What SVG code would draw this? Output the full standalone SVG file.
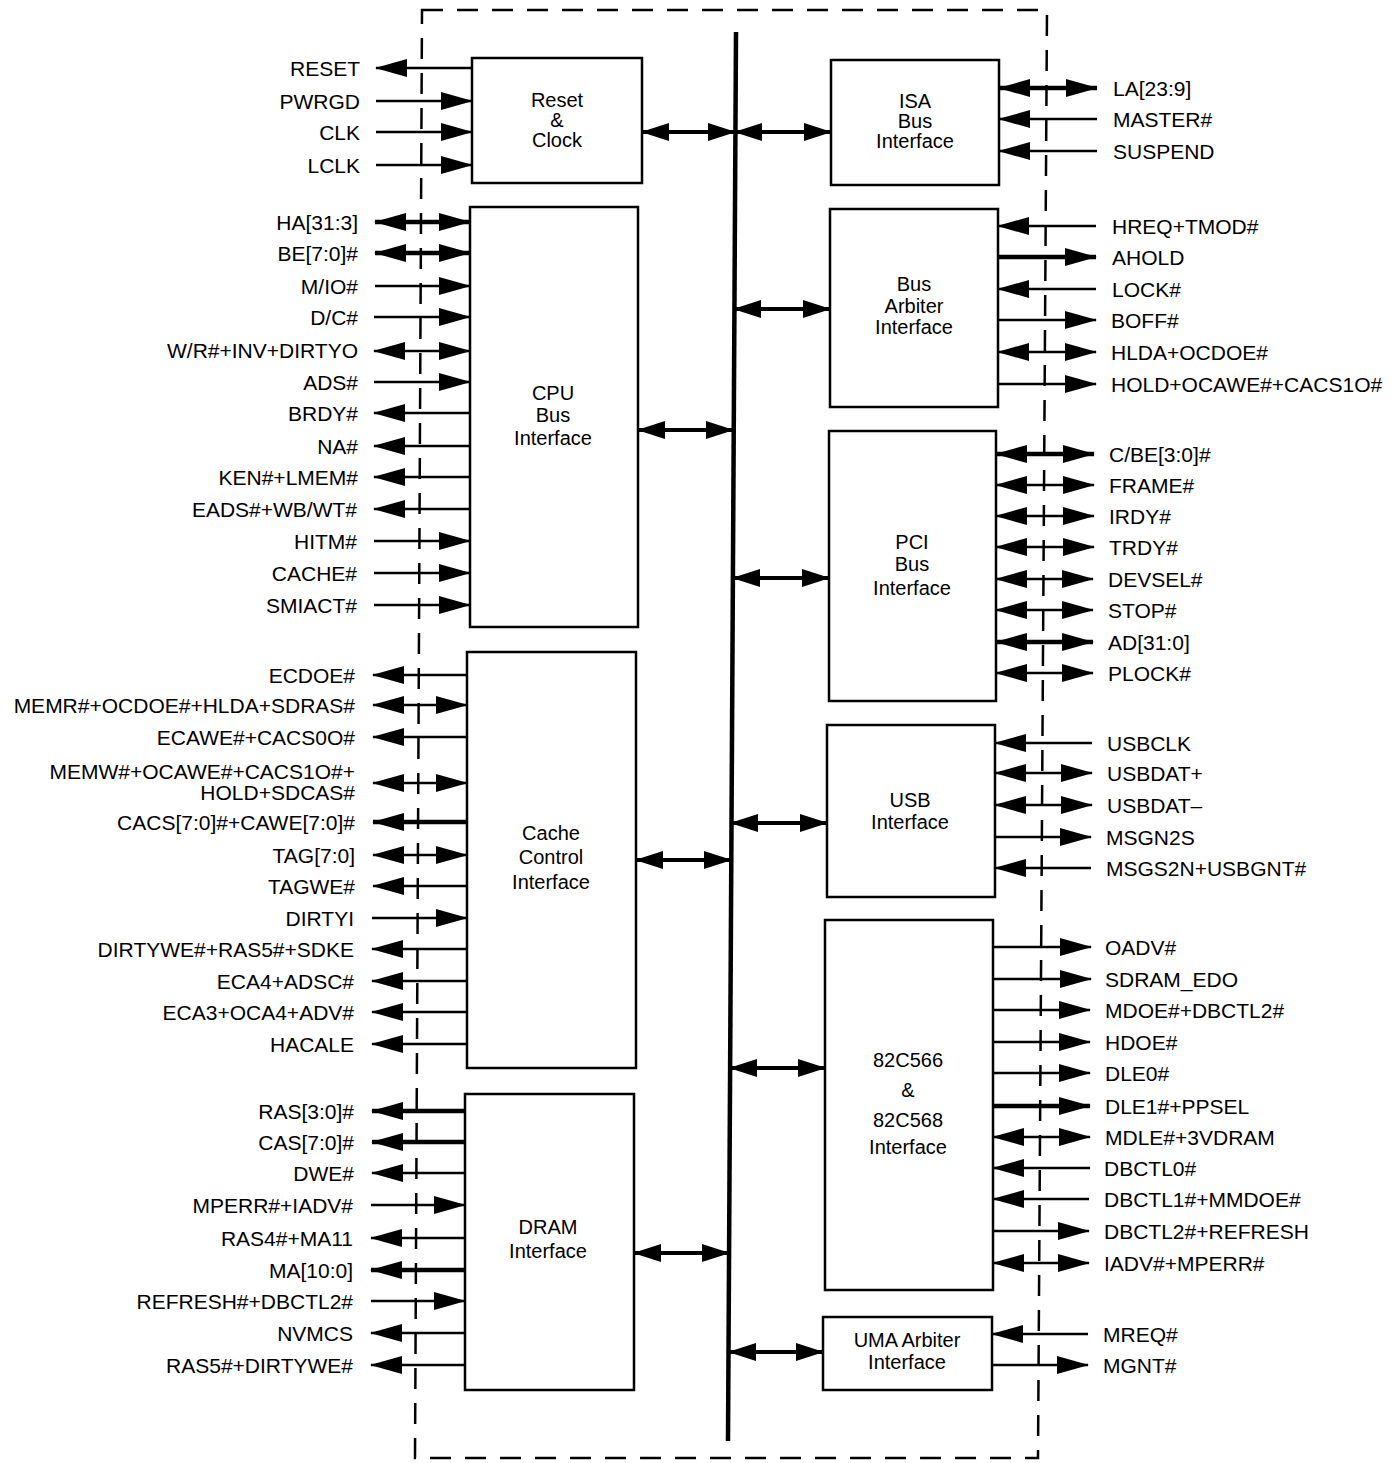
<svg xmlns="http://www.w3.org/2000/svg" width="1398" height="1463" viewBox="0 0 1398 1463">
  <style>
    text { font-family: "Liberation Sans", Arial, Helvetica, sans-serif; fill: #000; }
    .sig { font-size: 21px; }
    .sl { text-anchor: end; }
    .sr { text-anchor: start; }
    .blk { font-size: 20px; text-anchor: middle; }
    .box { fill: #fff; stroke: #000; stroke-width: 2.5; }
    .w { stroke: #000; stroke-width: 2.5; fill: none; }
    .bw { stroke: #000; stroke-width: 4.5; fill: none; }
    .out { marker-end: url(#ah); }
    .bi { marker-start: url(#ah); marker-end: url(#ah); }
    .link { stroke: #000; stroke-width: 4; fill: none; marker-start: url(#ahb); marker-end: url(#ahb); }
    .chip { fill: none; stroke: #000; stroke-width: 2.5; stroke-dasharray: 21 14; }
    .bus { stroke: #000; stroke-width: 4.5; }
  </style>
  <defs>
    <marker id="ah" markerUnits="userSpaceOnUse" viewBox="0 0 32 18" markerWidth="32" markerHeight="18" refX="31" refY="9" orient="auto-start-reverse">
      <path d="M0,0 L32,9 L0,18 Z" fill="#000"/>
    </marker>
    <marker id="ahb" markerUnits="userSpaceOnUse" viewBox="0 0 28 18" markerWidth="28" markerHeight="18" refX="27" refY="9" orient="auto-start-reverse">
      <path d="M0,0 L28,9 L0,18 Z" fill="#000"/>
    </marker>
  </defs>

  <rect width="1398" height="1463" fill="#fff"/>

  <!-- chip boundary and internal bus -->
  <path class="chip" d="M422,10 L1047,10 L1038,1458 L415,1458 Z"/>
  <line class="bus" x1="736" y1="32" x2="728" y2="1441"/>

  <!-- functional blocks -->
  <g id="reset-clock">
    <rect class="box" x="472" y="58" width="170" height="125"/>
    <text class="blk" x="557" y="107">Reset</text>
    <text class="blk" x="557" y="127">&amp;</text>
    <text class="blk" x="557" y="147">Clock</text>
  </g>
  <g id="cpu-bus">
    <rect class="box" x="470" y="207" width="168" height="420"/>
    <text class="blk" x="553" y="400">CPU</text>
    <text class="blk" x="553" y="422">Bus</text>
    <text class="blk" x="553" y="445">Interface</text>
  </g>
  <g id="cache-control">
    <rect class="box" x="467" y="652" width="169" height="416"/>
    <text class="blk" x="551" y="840">Cache</text>
    <text class="blk" x="551" y="864">Control</text>
    <text class="blk" x="551" y="889">Interface</text>
  </g>
  <g id="dram">
    <rect class="box" x="465" y="1094" width="169" height="296"/>
    <text class="blk" x="548" y="1234">DRAM</text>
    <text class="blk" x="548" y="1258">Interface</text>
  </g>
  <g id="isa-bus">
    <rect class="box" x="831" y="60" width="168" height="125"/>
    <text class="blk" x="915" y="108">ISA</text>
    <text class="blk" x="915" y="128">Bus</text>
    <text class="blk" x="915" y="148">Interface</text>
  </g>
  <g id="bus-arbiter">
    <rect class="box" x="830" y="209" width="168" height="198"/>
    <text class="blk" x="914" y="291">Bus</text>
    <text class="blk" x="914" y="313">Arbiter</text>
    <text class="blk" x="914" y="334">Interface</text>
  </g>
  <g id="pci-bus">
    <rect class="box" x="829" y="431" width="167" height="270"/>
    <text class="blk" x="912" y="549">PCI</text>
    <text class="blk" x="912" y="571">Bus</text>
    <text class="blk" x="912" y="595">Interface</text>
  </g>
  <g id="usb">
    <rect class="box" x="827" y="725" width="168" height="172"/>
    <text class="blk" x="910" y="807">USB</text>
    <text class="blk" x="910" y="829">Interface</text>
  </g>
  <g id="dbc-interface">
    <rect class="box" x="825" y="920" width="168" height="370"/>
    <text class="blk" x="908" y="1067">82C566</text>
    <text class="blk" x="908" y="1097">&amp;</text>
    <text class="blk" x="908" y="1127">82C568</text>
    <text class="blk" x="908" y="1154">Interface</text>
  </g>
  <g id="uma-arbiter">
    <rect class="box" x="823" y="1317" width="169" height="73"/>
    <text class="blk" x="907" y="1347">UMA Arbiter</text>
    <text class="blk" x="907" y="1369">Interface</text>
  </g>

  <!-- connectors -->
  <g id="connectors">
    <!-- block to internal bus -->
    <line class="link" x1="642" y1="132" x2="735" y2="132"/>
    <line class="link" x1="735" y1="132" x2="831" y2="132"/>
    <line class="link" x1="734" y1="309" x2="830" y2="309"/>
    <line class="link" x1="638" y1="430" x2="733" y2="430"/>
    <line class="link" x1="733" y1="578" x2="829" y2="578"/>
    <line class="link" x1="731" y1="823" x2="827" y2="823"/>
    <line class="link" x1="636" y1="860" x2="731" y2="860"/>
    <line class="link" x1="730" y1="1068" x2="825" y2="1068"/>
    <line class="link" x1="634" y1="1253" x2="729" y2="1253"/>
    <line class="link" x1="729" y1="1352" x2="823" y2="1352"/>

    <!-- reset & clock pins -->
    <line class="w out" x1="472" y1="68" x2="376" y2="68"/>
    <line class="w out" x1="376" y1="101" x2="472" y2="101"/>
    <line class="w out" x1="376" y1="132" x2="472" y2="132"/>
    <line class="w out" x1="376" y1="165" x2="472" y2="165"/>

    <!-- CPU bus pins -->
    <line class="bw bi" x1="375" y1="222" x2="470" y2="222"/>
    <line class="bw bi" x1="375" y1="253" x2="470" y2="253"/>
    <line class="w out" x1="375" y1="286" x2="470" y2="286"/>
    <line class="w out" x1="374" y1="317" x2="470" y2="317"/>
    <line class="w bi" x1="374" y1="351" x2="470" y2="351"/>
    <line class="w out" x1="374" y1="382" x2="470" y2="382"/>
    <line class="w out" x1="470" y1="413" x2="374" y2="413"/>
    <line class="w out" x1="470" y1="446" x2="374" y2="446"/>
    <line class="w out" x1="470" y1="477" x2="374" y2="477"/>
    <line class="w out" x1="470" y1="509" x2="374" y2="509"/>
    <line class="w out" x1="374" y1="541" x2="470" y2="541"/>
    <line class="w out" x1="374" y1="573" x2="470" y2="573"/>
    <line class="w out" x1="374" y1="605" x2="470" y2="605"/>

    <!-- cache control pins -->
    <line class="w out" x1="467" y1="675" x2="373" y2="675"/>
    <line class="w bi" x1="373" y1="705" x2="467" y2="705"/>
    <line class="w out" x1="467" y1="737" x2="373" y2="737"/>
    <line class="w bi" x1="373" y1="783" x2="467" y2="783"/>
    <line class="bw out" x1="467" y1="822" x2="373" y2="822"/>
    <line class="w bi" x1="373" y1="855" x2="467" y2="855"/>
    <line class="w out" x1="467" y1="886" x2="373" y2="886"/>
    <line class="w out" x1="372" y1="918" x2="467" y2="918"/>
    <line class="w out" x1="467" y1="949" x2="372" y2="949"/>
    <line class="w out" x1="467" y1="981" x2="372" y2="981"/>
    <line class="w out" x1="467" y1="1012" x2="372" y2="1012"/>
    <line class="w out" x1="467" y1="1044" x2="372" y2="1044"/>

    <!-- DRAM pins -->
    <line class="bw out" x1="465" y1="1111" x2="372" y2="1111"/>
    <line class="bw out" x1="465" y1="1142" x2="372" y2="1142"/>
    <line class="w out" x1="465" y1="1173" x2="372" y2="1173"/>
    <line class="w out" x1="371" y1="1205" x2="465" y2="1205"/>
    <line class="w out" x1="465" y1="1238" x2="371" y2="1238"/>
    <line class="bw out" x1="465" y1="1270" x2="371" y2="1270"/>
    <line class="w out" x1="371" y1="1301" x2="465" y2="1301"/>
    <line class="w out" x1="465" y1="1333" x2="371" y2="1333"/>
    <line class="w out" x1="465" y1="1365" x2="371" y2="1365"/>

    <!-- ISA pins -->
    <line class="bw bi" x1="999" y1="88" x2="1097" y2="88"/>
    <line class="w out" x1="1097" y1="119" x2="999" y2="119"/>
    <line class="w out" x1="1097" y1="151" x2="999" y2="151"/>

    <!-- bus arbiter pins -->
    <line class="w out" x1="1096" y1="226" x2="998" y2="226"/>
    <line class="bw out" x1="998" y1="257" x2="1096" y2="257"/>
    <line class="w out" x1="1096" y1="289" x2="998" y2="289"/>
    <line class="w out" x1="998" y1="320" x2="1096" y2="320"/>
    <line class="w bi" x1="998" y1="352" x2="1096" y2="352"/>
    <line class="w out" x1="998" y1="384" x2="1096" y2="384"/>

    <!-- PCI pins -->
    <line class="bw bi" x1="996" y1="454" x2="1094" y2="454"/>
    <line class="w bi" x1="996" y1="485" x2="1094" y2="485"/>
    <line class="w bi" x1="996" y1="516" x2="1094" y2="516"/>
    <line class="w bi" x1="996" y1="547" x2="1094" y2="547"/>
    <line class="w bi" x1="996" y1="579" x2="1093" y2="579"/>
    <line class="w bi" x1="996" y1="610" x2="1093" y2="610"/>
    <line class="bw bi" x1="996" y1="642" x2="1093" y2="642"/>
    <line class="w bi" x1="996" y1="673" x2="1093" y2="673"/>

    <!-- USB pins -->
    <line class="w out" x1="1092" y1="743" x2="995" y2="743"/>
    <line class="w bi" x1="995" y1="773" x2="1092" y2="773"/>
    <line class="w bi" x1="995" y1="805" x2="1092" y2="805"/>
    <line class="w out" x1="995" y1="837" x2="1091" y2="837"/>
    <line class="w out" x1="1091" y1="868" x2="995" y2="868"/>

    <!-- 82C566/82C568 pins -->
    <line class="w out" x1="993" y1="947" x2="1091" y2="947"/>
    <line class="w out" x1="993" y1="979" x2="1091" y2="979"/>
    <line class="w out" x1="993" y1="1010" x2="1090" y2="1010"/>
    <line class="w out" x1="993" y1="1042" x2="1090" y2="1042"/>
    <line class="w out" x1="993" y1="1073" x2="1090" y2="1073"/>
    <line class="bw out" x1="993" y1="1106" x2="1090" y2="1106"/>
    <line class="w bi" x1="993" y1="1137" x2="1090" y2="1137"/>
    <line class="w out" x1="1090" y1="1168" x2="993" y2="1168"/>
    <line class="w out" x1="1089" y1="1199" x2="993" y2="1199"/>
    <line class="w out" x1="993" y1="1231" x2="1089" y2="1231"/>
    <line class="w bi" x1="993" y1="1263" x2="1089" y2="1263"/>

    <!-- UMA arbiter pins -->
    <line class="w out" x1="1088" y1="1334" x2="992" y2="1334"/>
    <line class="w out" x1="992" y1="1365" x2="1088" y2="1365"/>
  </g>

  <!-- pin names, left side -->
  <g id="pins-left">
    <text class="sig sl" x="360" y="76">RESET</text>
    <text class="sig sl" x="360" y="109">PWRGD</text>
    <text class="sig sl" x="360" y="140">CLK</text>
    <text class="sig sl" x="360" y="173">LCLK</text>
    <text class="sig sl" x="358" y="230">HA[31:3]</text>
    <text class="sig sl" x="358" y="261">BE[7:0]#</text>
    <text class="sig sl" x="358" y="294">M/IO#</text>
    <text class="sig sl" x="358" y="325">D/C#</text>
    <text class="sig sl" x="358" y="358">W/R#+INV+DIRTYO</text>
    <text class="sig sl" x="358" y="390">ADS#</text>
    <text class="sig sl" x="358" y="421">BRDY#</text>
    <text class="sig sl" x="358" y="454">NA#</text>
    <text class="sig sl" x="358" y="485">KEN#+LMEM#</text>
    <text class="sig sl" x="357" y="517">EADS#+WB/WT#</text>
    <text class="sig sl" x="357" y="549">HITM#</text>
    <text class="sig sl" x="357" y="581">CACHE#</text>
    <text class="sig sl" x="357" y="613">SMIACT#</text>
    <text class="sig sl" x="355" y="683">ECDOE#</text>
    <text class="sig sl" x="355" y="713">MEMR#+OCDOE#+HLDA+SDRAS#</text>
    <text class="sig sl" x="355" y="745">ECAWE#+CACS0O#</text>
    <text class="sig sl" x="355" y="779">MEMW#+OCAWE#+CACS1O#+</text>
    <text class="sig sl" x="355" y="800">HOLD+SDCAS#</text>
    <text class="sig sl" x="355" y="830">CACS[7:0]#+CAWE[7:0]#</text>
    <text class="sig sl" x="355" y="863">TAG[7:0]</text>
    <text class="sig sl" x="355" y="894">TAGWE#</text>
    <text class="sig sl" x="354" y="926">DIRTYI</text>
    <text class="sig sl" x="354" y="957">DIRTYWE#+RAS5#+SDKE</text>
    <text class="sig sl" x="354" y="989">ECA4+ADSC#</text>
    <text class="sig sl" x="354" y="1020">ECA3+OCA4+ADV#</text>
    <text class="sig sl" x="354" y="1052">HACALE</text>
    <text class="sig sl" x="354" y="1119">RAS[3:0]#</text>
    <text class="sig sl" x="354" y="1150">CAS[7:0]#</text>
    <text class="sig sl" x="354" y="1181">DWE#</text>
    <text class="sig sl" x="353" y="1213">MPERR#+IADV#</text>
    <text class="sig sl" x="353" y="1246">RAS4#+MA11</text>
    <text class="sig sl" x="353" y="1278">MA[10:0]</text>
    <text class="sig sl" x="353" y="1309">REFRESH#+DBCTL2#</text>
    <text class="sig sl" x="353" y="1341">NVMCS</text>
    <text class="sig sl" x="353" y="1373">RAS5#+DIRTYWE#</text>
  </g>

  <!-- pin names, right side -->
  <g id="pins-right">
    <text class="sig sr" x="1113" y="96">LA[23:9]</text>
    <text class="sig sr" x="1113" y="127">MASTER#</text>
    <text class="sig sr" x="1113" y="159">SUSPEND</text>
    <text class="sig sr" x="1112" y="234">HREQ+TMOD#</text>
    <text class="sig sr" x="1112" y="265">AHOLD</text>
    <text class="sig sr" x="1112" y="297">LOCK#</text>
    <text class="sig sr" x="1111" y="328">BOFF#</text>
    <text class="sig sr" x="1111" y="360">HLDA+OCDOE#</text>
    <text class="sig sr" x="1111" y="392">HOLD+OCAWE#+CACS1O#</text>
    <text class="sig sr" x="1109" y="462">C/BE[3:0]#</text>
    <text class="sig sr" x="1109" y="493">FRAME#</text>
    <text class="sig sr" x="1109" y="524">IRDY#</text>
    <text class="sig sr" x="1109" y="555">TRDY#</text>
    <text class="sig sr" x="1108" y="587">DEVSEL#</text>
    <text class="sig sr" x="1108" y="618">STOP#</text>
    <text class="sig sr" x="1108" y="650">AD[31:0]</text>
    <text class="sig sr" x="1108" y="681">PLOCK#</text>
    <text class="sig sr" x="1107" y="751">USBCLK</text>
    <text class="sig sr" x="1107" y="781">USBDAT+</text>
    <text class="sig sr" x="1107" y="813">USBDAT–</text>
    <text class="sig sr" x="1106" y="845">MSGN2S</text>
    <text class="sig sr" x="1106" y="876">MSGS2N+USBGNT#</text>
    <text class="sig sr" x="1105" y="955">OADV#</text>
    <text class="sig sr" x="1105" y="987">SDRAM_EDO</text>
    <text class="sig sr" x="1105" y="1018">MDOE#+DBCTL2#</text>
    <text class="sig sr" x="1105" y="1050">HDOE#</text>
    <text class="sig sr" x="1105" y="1081">DLE0#</text>
    <text class="sig sr" x="1105" y="1114">DLE1#+PPSEL</text>
    <text class="sig sr" x="1105" y="1145">MDLE#+3VDRAM</text>
    <text class="sig sr" x="1104" y="1176">DBCTL0#</text>
    <text class="sig sr" x="1104" y="1207">DBCTL1#+MMDOE#</text>
    <text class="sig sr" x="1104" y="1239">DBCTL2#+REFRESH</text>
    <text class="sig sr" x="1104" y="1271">IADV#+MPERR#</text>
    <text class="sig sr" x="1103" y="1342">MREQ#</text>
    <text class="sig sr" x="1103" y="1373">MGNT#</text>
  </g>
</svg>
